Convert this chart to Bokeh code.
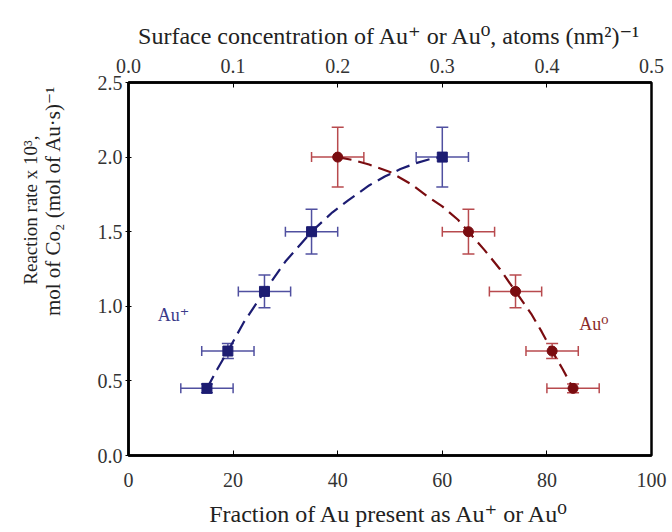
from bokeh.plotting import figure
from bokeh.models import (LinearAxis, Range1d, Whisker, ColumnDataSource, TeeHead,
                          Label, Title, FixedTicker, PrintfTickFormatter)
from bokeh.embed import file_html
from bokeh.resources import INLINE

# ---- data ----
au_plus_x = [15, 19, 26, 35, 60]
au_plus_y = [0.45, 0.70, 1.10, 1.50, 2.00]
au_plus_xerr = [5, 5, 5, 5, 5]
au_plus_yerr = [0.03, 0.05, 0.11, 0.15, 0.20]

au_zero_x = [40, 65, 74, 81, 85]
au_zero_y = [2.00, 1.50, 1.10, 0.70, 0.45]
au_zero_xerr = [5, 5, 5, 5, 5]
au_zero_yerr = [0.20, 0.15, 0.11, 0.05, 0.03]

# dashed trend curves
curve_plus_x = [15, 17, 19, 22, 26, 30, 35, 39, 42, 46, 49, 52, 55, 58, 60]
curve_plus_y = [0.45, 0.58, 0.70, 0.89, 1.10, 1.30, 1.50, 1.63, 1.71, 1.81, 1.87, 1.92, 1.96, 1.99, 2.00]
curve_zero_x = [40, 43, 46, 50, 54, 57, 60, 63, 65, 68, 71, 74, 77, 79, 81, 83, 85]
curve_zero_y = [2.00, 1.98, 1.95, 1.90, 1.82, 1.74, 1.67, 1.58, 1.50, 1.38, 1.25, 1.10, 0.95, 0.83, 0.70, 0.58, 0.45]

top_ticks = [0.0, 0.1, 0.2, 0.3, 0.4, 0.5]
bottom_ticks = [0, 20, 40, 60, 80, 100]
left_ticks = [0.0, 0.5, 1.0, 1.5, 2.0, 2.5]

y_label_lines = ["Reaction rate x 10\u00b3,", "mol of Co\u2082 (mol of Au\u00b7s)\u207b\u00b9"]

BLUE = "#1c1c72"
BLUE_ERR = "#5050a0"
RED = "#7a0c10"
RED_ERR = "#b84a4e"
FONT = "Liberation Serif, DejaVu Serif"

p = figure(width=672, height=532, x_range=Range1d(0, 100), y_range=Range1d(0, 2.5),
           output_backend="svg", toolbar_location=None,
           min_border_left=128, min_border_right=21, min_border_top=82, min_border_bottom=77)
p.background_fill_color = "white"
p.border_fill_color = "white"
p.xgrid.visible = False
p.ygrid.visible = False
p.outline_line_color = "black"
p.outline_line_width = 2.5
p.outline_line_alpha = 1.0

# bottom axis
xa = p.xaxis[0]
xa.ticker = FixedTicker(ticks=bottom_ticks)
xa.axis_label = "Fraction of Au present as Au\u207a or Au\u2070"
# left axis
ya = p.yaxis[0]
ya.ticker = FixedTicker(ticks=left_ticks)
ya.formatter = PrintfTickFormatter(format="%.1f")

# top axis
p.extra_x_ranges = {"top": Range1d(0, 0.5)}
ta = LinearAxis(x_range_name="top", ticker=FixedTicker(ticks=top_ticks),
                formatter=PrintfTickFormatter(format="%.1f"),
                axis_label="Surface concentration of Au\u207a or Au\u2070, atoms (nm\u00b2)\u207b\u00b9")
p.add_layout(ta, "above")

for ax in (xa, ya, ta):
    ax.axis_line_width = 2.5
    ax.axis_line_color = "black"
    ax.major_tick_line_color = "black"
    ax.major_tick_line_width = 1
    ax.minor_tick_line_color = None
    ax.major_label_text_font = FONT
    ax.major_label_text_font_size = "20px"
    ax.major_label_text_color = "#333333"
    ax.axis_label_text_font = FONT
    ax.axis_label_text_font_size = "24px"
    ax.axis_label_text_font_style = "normal"
    ax.axis_label_text_color = "#222222"

xa.major_tick_in = 5
xa.major_tick_out = 0
xa.major_label_standoff = 17
xa.axis_label_standoff = 11
ta.major_tick_in = 5
ta.major_tick_out = 0
ta.major_label_standoff = 10
ta.axis_label_standoff = 7
ya.major_tick_in = 3
ya.major_tick_out = 3
ya.major_label_standoff = 3

# spacer + two-line y-axis title, stacked on the left and shifted upward
spacer = Title(text=" ", text_font_size="1px", standoff=27)
t2 = Title(text=y_label_lines[1], align="right", offset=3, standoff=0,
           text_font=FONT, text_font_size="21px", text_font_style="normal",
           text_color="#222222")
t1 = Title(text=y_label_lines[0], align="right", offset=53, standoff=-5,
           text_font=FONT, text_font_size="19px", text_font_style="normal",
           text_color="#222222")
p.add_layout(spacer, "left")
p.add_layout(t2, "left")
p.add_layout(t1, "left")

# dashed curves
p.line(curve_plus_x, curve_plus_y, line_color=BLUE, line_width=2.2, line_dash="14 7")
p.line(curve_zero_x, curve_zero_y, line_color=RED, line_width=2.2, line_dash="14 7")


def add_errors(xs, ys, xe, ye, color):
    src = ColumnDataSource(dict(
        x=xs, y=ys,
        xl=[a - b for a, b in zip(xs, xe)], xu=[a + b for a, b in zip(xs, xe)],
        yl=[a - b for a, b in zip(ys, ye)], yu=[a + b for a, b in zip(ys, ye)]))
    wv = Whisker(source=src, base="x", lower="yl", upper="yu", dimension="height",
                 line_color=color, line_width=1.5,
                 upper_head=TeeHead(size=12, line_color=color, line_width=1.5),
                 lower_head=TeeHead(size=12, line_color=color, line_width=1.5))
    wh = Whisker(source=src, base="y", lower="xl", upper="xu", dimension="width",
                 line_color=color, line_width=1.5,
                 upper_head=TeeHead(size=10, line_color=color, line_width=1.5),
                 lower_head=TeeHead(size=10, line_color=color, line_width=1.5))
    p.add_layout(wv)
    p.add_layout(wh)
    return src


s1 = add_errors(au_plus_x, au_plus_y, au_plus_xerr, au_plus_yerr, BLUE_ERR)
s2 = add_errors(au_zero_x, au_zero_y, au_zero_xerr, au_zero_yerr, RED_ERR)

p.scatter("x", "y", source=s1, marker="square", size=10, fill_color=BLUE, line_color=BLUE)
p.scatter("x", "y", source=s2, marker="circle", size=10, fill_color=RED, line_color=RED)

p.add_layout(Label(x=8.6, y=0.94, text="Au\u207a", text_font=FONT, text_font_size="18px",
                   text_color="#3a3a8a", text_align="center", text_baseline="middle"))
p.add_layout(Label(x=89, y=0.88, text="Au\u2070", text_font=FONT, text_font_size="18px",
                   text_color="#8a2a2a", text_align="center", text_baseline="middle"))

open("out.html", "w").write(file_html(p, INLINE))
